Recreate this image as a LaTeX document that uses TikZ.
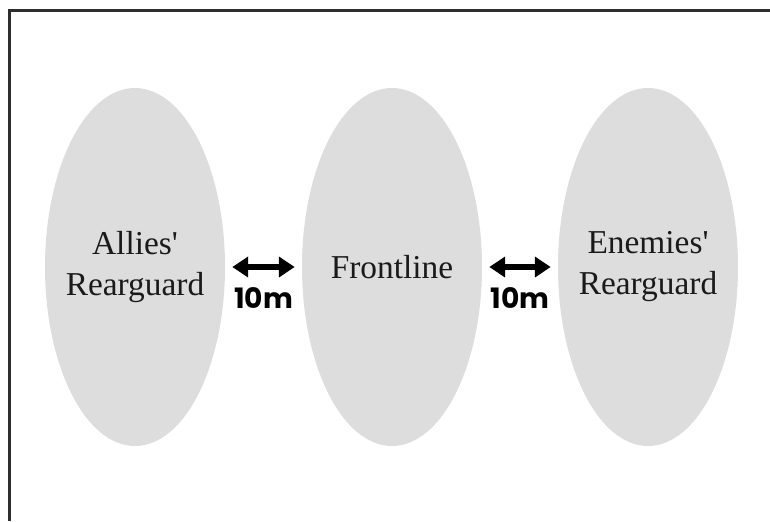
\documentclass[tikz,border=0pt]{standalone}
\usepackage{fontspec}
\setmainfont{Liberation Serif}
\newfontfamily\gapfont{Poppins}
\usetikzlibrary{shapes.geometric, arrows.meta, positioning}
\definecolor{zonegray}{HTML}{DDDDDD}
\definecolor{framegray}{HTML}{2E2E2E}
\definecolor{inkblack}{HTML}{1A1A1A}
\tikzset{
  zone/.style={ellipse, fill=zonegray, draw=none, inner sep=0pt,
    minimum width=5.4cm, minimum height=10.74cm},
  zonetext/.style={align=center, text=inkblack, inner sep=0pt,
    font=\fontsize{28.5}{35}\selectfont},
  gap/.style={{Triangle[length=0.48cm,width=0.6cm]}-{Triangle[length=0.48cm,width=0.6cm]},
    line width=0.17cm, shorten <=0.21cm, shorten >=0.21cm},
  dist/.style={font=\gapfont\bfseries\fontsize{24}{24}\selectfont, inner sep=0pt, text=black}
}

\begin{document}
\begin{tikzpicture}[x=0.03cm, y=-0.03cm]
  \useasboundingbox (0,0) rectangle (770,521);
  % frame (only top and left edges show)
  \draw[framegray, line width=0.09cm] (770,10) -- (9,10) -- (9,521);

  % zones
  \node[zone] (allies) at (135,267) {};
  \node[zone] (front) at (392,267) {};
  \node[zone] (enemies) at (648,267) {};
  \node[zonetext] (alliestext) at (allies) {Allies\textquotesingle\\Rearguard};
  \node[zonetext] (fronttext) at (front) {Frontline};
  \node[zonetext] (enemiestext) at (enemies) {Enemies\textquotesingle\\Rearguard};

  % 10m between zones
  \draw[gap] (allies.east) -- (front.west) node[dist, midway, below=0.54cm] (gapleft) {10m};
  \draw[gap] (front.east) -- (enemies.west) node[dist, midway, below=0.54cm] (gapright) {10m};
\end{tikzpicture}
\end{document}
